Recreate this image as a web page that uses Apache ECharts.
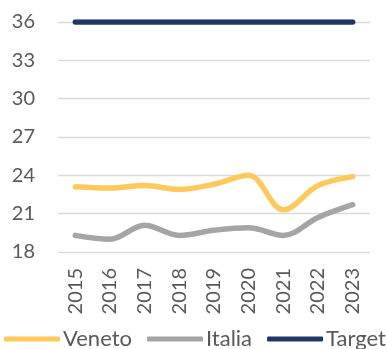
<!DOCTYPE html>
<html>
<head>
<meta charset="utf-8">
<script src="https://cdn.jsdelivr.net/npm/echarts@6/dist/echarts.min.js"></script>
<style>
  html, body { margin: 0; padding: 0; background: #fff; }
  #chart { width: 387px; height: 349px; }
</style>
</head>
<body>
<div id="chart"></div>
<script>
// Years on the category axis
const years = ['2015', '2016', '2017', '2018', '2019', '2020', '2021', '2022', '2023'];
// Series values
const veneto = [23.1, 23.0, 23.2, 22.9, 23.3, 24.0, 21.3, 23.2, 23.9];
const italia = [19.3, 19.0, 20.1, 19.3, 19.7, 19.9, 19.3, 20.7, 21.7];
const target = [36, 36, 36, 36, 36, 36, 36, 36, 36];

const font = 'Lato, "Open Sans", sans-serif';
const chart = echarts.init(document.getElementById('chart'), null, { renderer: 'canvas' });

function lineSeries(name, data, color) {
  return {
    name: name,
    type: 'line',
    data: data,
    smooth: 0.35,
    symbol: 'none',
    lineStyle: { color: color, width: 5.5, cap: 'round', join: 'round' },
    itemStyle: { color: color }
  };
}

chart.setOption({
  animation: false,
  grid: { left: 58, right: 17, top: 22, bottom: 97, containLabel: false },
  xAxis: {
    type: 'category',
    data: years,
    boundaryGap: true,
    axisLine: { show: false },
    axisTick: { show: false },
    axisLabel: {
      rotate: 90,
      color: '#595959',
      fontFamily: font,
      fontSize: 20,
      margin: 16
    }
  },
  yAxis: {
    type: 'value',
    min: 18,
    max: 36,
    interval: 3,
    axisLine: { show: false },
    axisTick: { show: false },
    axisLabel: {
      color: '#595959',
      fontFamily: font,
      fontSize: 20,
      margin: 23
    },
    splitLine: { lineStyle: { color: '#D9D9D9', width: 1.3 } }
  },
  legend: {
    top: 328,
    left: 4,
    width: 600,
    padding: 0,
    itemWidth: 56,
    itemHeight: 5,
    itemGap: 15,
    icon: 'roundRect',
    textStyle: { color: '#595959', fontFamily: font, fontSize: 22, padding: [0, 0, 0, -2] },
    data: ['Veneto', 'Italia', 'Target']
  },
  series: [
    lineSeries('Veneto', veneto, '#FFC95C'),
    lineSeries('Italia', italia, '#A5A5A5'),
    lineSeries('Target', target, '#1F3864')
  ]
});
</script>
</body>
</html>
